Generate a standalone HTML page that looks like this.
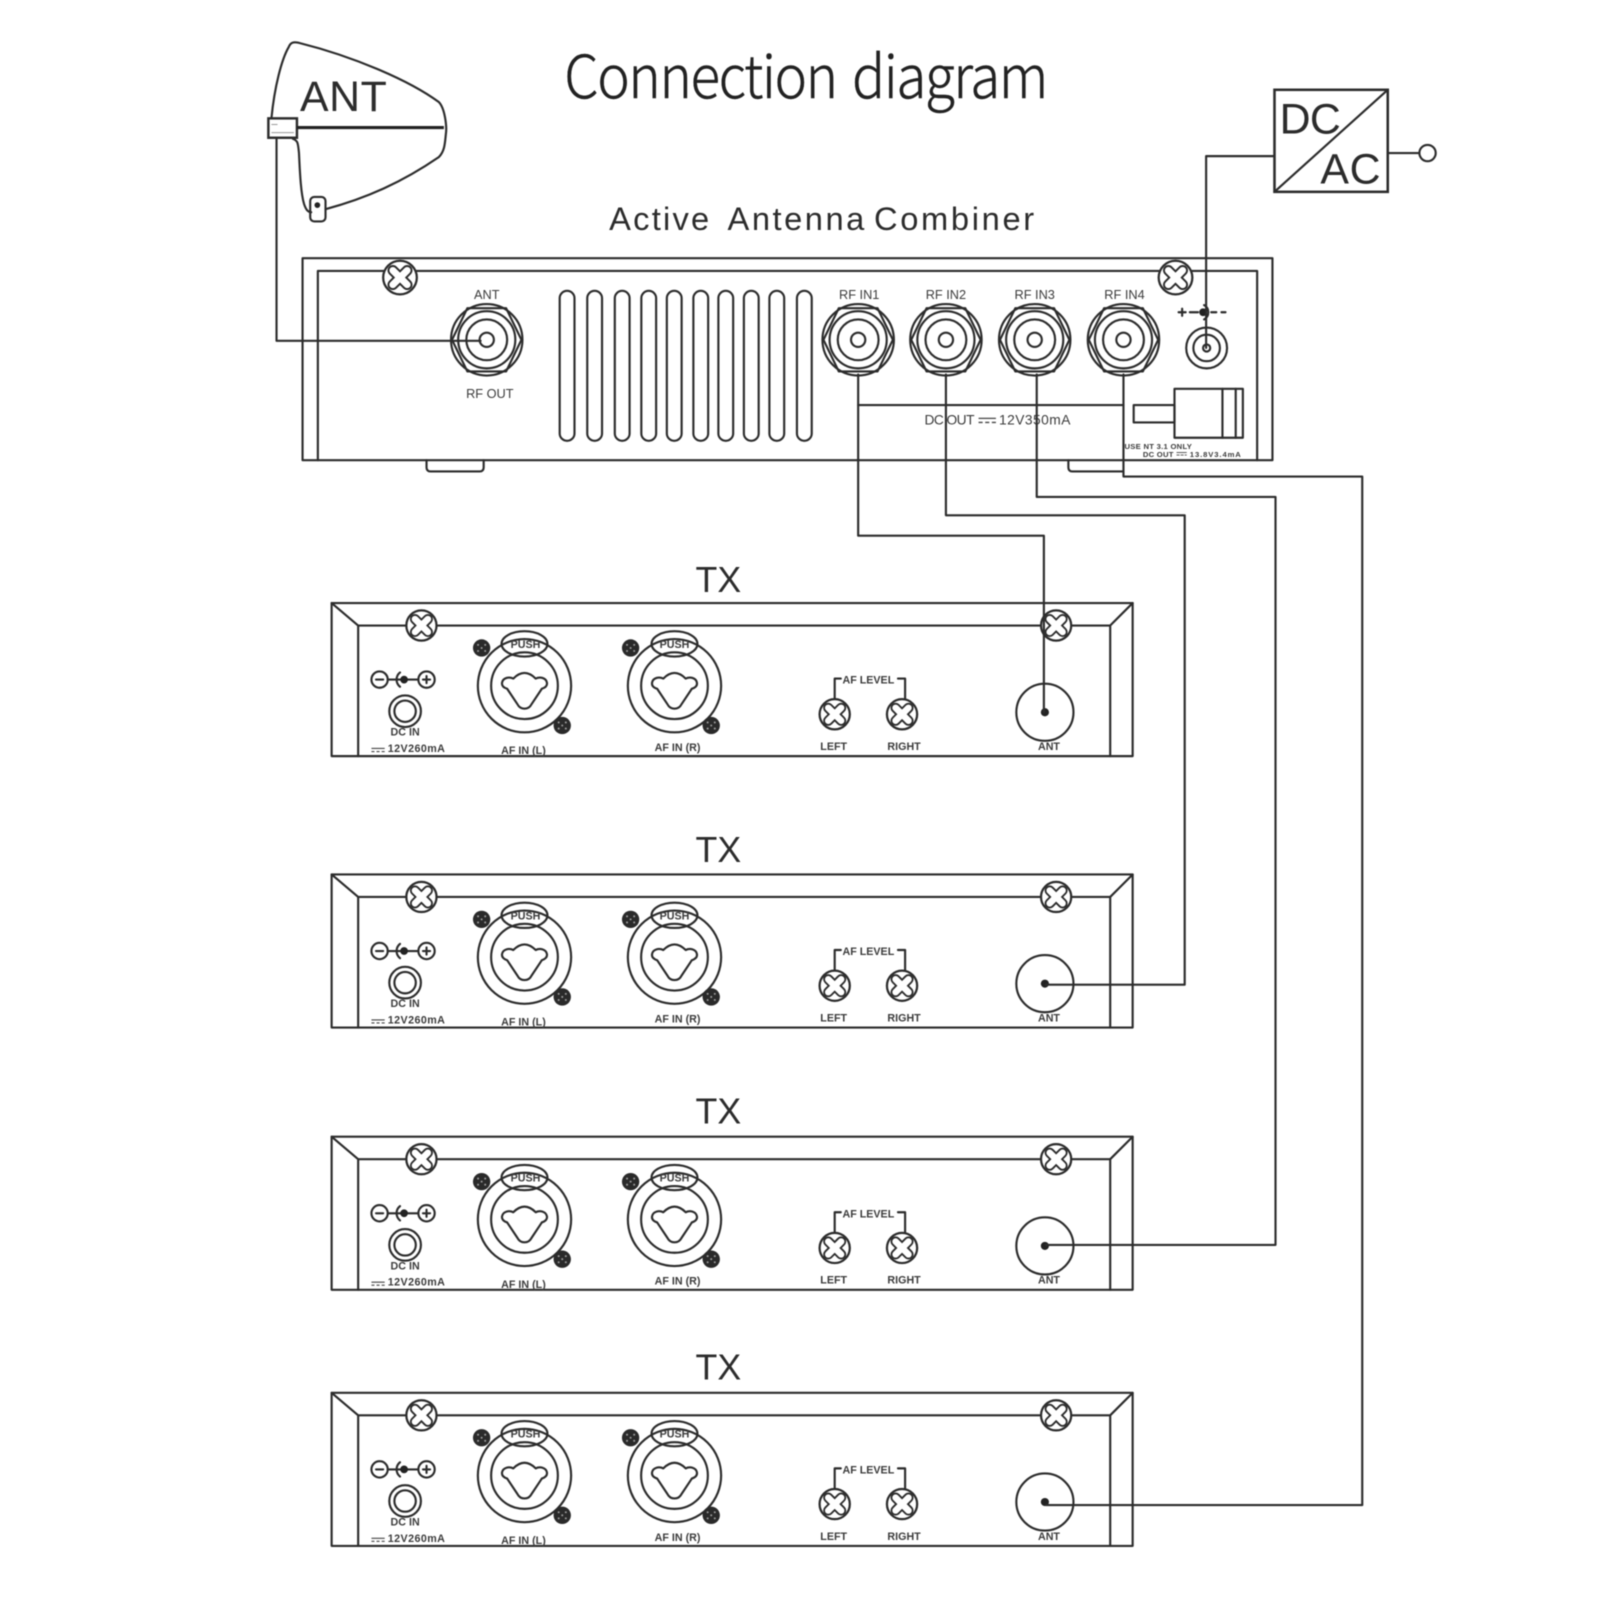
<!DOCTYPE html>
<html>
<head>
<meta charset="utf-8">
<title>Connection diagram</title>
<style>
html,body{margin:0;padding:0;background:#fff;}
svg{display:block;width:1600px;height:1600px;filter:blur(0.45px);}
.l{fill:none;stroke:#2c2c2c;stroke-width:2.1;stroke-linejoin:round;stroke-linecap:round;}
.t{font-family:"Liberation Sans","DejaVu Sans",sans-serif;fill:#3c3c3c;font-size:11px;}
.s{font-size:10.5px;font-weight:bold;}
.m{text-anchor:middle;}
.b{fill:#222;}
</style>
</head>
<body>
<svg xmlns="http://www.w3.org/2000/svg" viewBox="0 0 1568 1568" width="1600" height="1600">
<defs>
  <g id="scr">
    <circle r="16.5" fill="#fff" stroke="#2c2c2c" stroke-width="2.2"/>
    <path d="M-7,-7L7,7M7,-7L-7,7" stroke="#2c2c2c" stroke-width="10.5" stroke-linecap="round" fill="none"/>
    <path d="M-7,-7L7,7M7,-7L-7,7" stroke="#fff" stroke-width="6.8" stroke-linecap="round" fill="none"/>
  </g>
  <g id="sm">
    <circle r="14.8" fill="#fff" stroke="#2c2c2c" stroke-width="2.2"/>
    <path d="M-6.3,-6.3L6.3,6.3M6.3,-6.3L-6.3,6.3" stroke="#2c2c2c" stroke-width="10" stroke-linecap="round" fill="none"/>
    <path d="M-6.3,-6.3L6.3,6.3M6.3,-6.3L-6.3,6.3" stroke="#fff" stroke-width="6.4" stroke-linecap="round" fill="none"/>
  </g>
  <g id="bnc">
    <circle r="35" fill="#fff" class="l"/>
    <path d="M-34,0L-19,-31L19,-31L34,0L19,31L-19,31Z" class="l"/>
    <circle r="28" class="l"/>
    <circle r="20" class="l"/>
    <circle r="7" class="l"/>
  </g>
  <g id="drk">
    <circle r="8.5" fill="#2a2a2a"/>
    <g fill="#999"><circle cx="-3.5" cy="-3" r="1"/><circle cx="3.5" cy="-3" r="1"/><circle cx="-3.5" cy="3" r="1"/><circle cx="3.5" cy="3" r="1"/><circle r="1"/></g>
  </g>
  <g id="xlr">
    <circle r="45.7" class="l"/>
    <circle r="32.7" class="l"/>
    <path class="l" d="M-11,-7C-7,-11 -3,-12.5 0,-12.5C3,-12.5 7,-11 11,-7C15,-9 21,-8 22,-3C22.500,0 20,2 17,3L7,18C4,24 -4,24 -7,18L-17,3C-20,2 -22.500,0 -22,-3C-21,-8 -15,-9 -11,-7Z"/>
    <ellipse cx="0" cy="-41" rx="22.500" ry="12.400" fill="#fff" class="l"/>
  </g>
  <g id="tx">
    <rect x="325" y="0" width="785" height="150" class="l"/>
    <path class="l" d="M325,0L351,22L1088,22L1110,0M351,22L351,150M1088,22L1088,150"/>
    <use href="#sm" x="413" y="22"/>
    <use href="#sm" x="1035" y="22"/>
    <circle cx="372" cy="75" r="8" fill="#fff" class="l"/>
    <circle cx="418" cy="75" r="8" fill="#fff" class="l"/>
    <path class="l" d="M380,75L410,75M368.500,75L375.500,75M414.500,75L421.500,75M418,71.500L418,78.500M392,68A9,9 0 0,0 392,82"/>
    <circle cx="396" cy="75" r="3.800" class="b"/>
    <circle cx="397" cy="106" r="15.500" class="l"/>
    <circle cx="397" cy="106" r="10.500" class="l"/>
    <use href="#xlr" x="514" y="81"/>
    <use href="#xlr" x="661" y="81"/>
    <use href="#drk" x="472" y="44"/>
    <use href="#drk" x="551" y="120"/>
    <use href="#drk" x="618" y="44"/>
    <use href="#drk" x="697" y="120"/>
    <path class="l" d="M824,74L818,74L818,97M880,74L887,74L887,97"/>
    <use href="#sm" x="818" y="109"/>
    <use href="#sm" x="884" y="109"/>
    <circle cx="1024" cy="107" r="28" class="l"/>
    <circle cx="1024" cy="107" r="4" class="b"/>
    <path d="M364,142.500L377,142.500M364,145.500L367,145.500M369,145.500L372,145.500M374,145.500L377,145.500" stroke="#444" stroke-width="1.100" fill="none"/>
  </g>
</defs>

<rect width="1568" height="1568" fill="#fff"/>

<!-- Title -->
<g font-family="'Noto Sans CJK SC','Liberation Sans',sans-serif" font-weight="300" font-size="58" fill="#222" stroke="#222" stroke-width="0.4" lengthAdjust="spacingAndGlyphs">
  <text x="553" y="96" letter-spacing="-1.500" textLength="267" lengthAdjust="spacingAndGlyphs">Connection</text>
  <text x="835" y="96" letter-spacing="-1.500" textLength="191" lengthAdjust="spacingAndGlyphs">diagram</text>
</g>
<text x="597" y="225.500" class="t" style="font-size:32px;fill:#2c2c2c" textLength="98">Active</text>
<text x="713" y="225.500" class="t" style="font-size:32px;fill:#2c2c2c" textLength="134">Antenna</text>
<text x="856.500" y="225.500" class="t" style="font-size:32px;fill:#2c2c2c" textLength="157">Combiner</text>

<!-- Antenna -->
<path class="l" d="M266,116C269,85 276,58 283,46C285,41 288,41 293,42C345,55 400,78 430,100C436,106 438,124 437,131C436,140 436,148 430,154C395,178 360,194 319,205"/>
<path class="l" d="M287,136C292,138 292,140 293,150C294,172 295,190 298,200C300,206 302,208 305,208"/>
<rect x="304" y="193" width="15" height="24" rx="4" fill="#fff" class="l"/>
<circle cx="311" cy="201" r="2.800" class="b"/>
<rect x="263" y="116" width="28" height="19" fill="#fff" stroke="#2c2c2c" stroke-width="2.400"/>
<path d="M291,125L435,125" stroke="#222" stroke-width="3" fill="none"/>
<path d="M266,130L288,130M266,122L272,122" stroke="#999" stroke-width="1" fill="none"/>
<text x="294" y="109" class="t" style="font-size:42px;fill:#2c2c2c" textLength="85">ANT</text>

<!-- Combiner -->
<rect x="296.500" y="253" width="950.500" height="198" class="l"/>
<path class="l" d="M311.500,451L311.500,265.500L1232,265.500L1232,451"/>
<path class="l" d="M418,451L418,458Q418,462 422,462L470,462Q474,462 474,458L474,451"/>
<path class="l" d="M1047,451L1047,458Q1047,462 1051,462L1101,462"/>
<use href="#scr" x="392" y="272"/>
<use href="#scr" x="1152" y="272"/>
<g class="l">
  <rect x="548.500" y="285" width="14.500" height="147" rx="7.200"/>
  <rect x="575.500" y="285" width="14.500" height="147" rx="7.200"/>
  <rect x="602.500" y="285" width="14.500" height="147" rx="7.200"/>
  <rect x="628.500" y="285" width="14.500" height="147" rx="7.200"/>
  <rect x="653.500" y="285" width="14.500" height="147" rx="7.200"/>
  <rect x="679.500" y="285" width="14.500" height="147" rx="7.200"/>
  <rect x="704" y="285" width="14.500" height="147" rx="7.200"/>
  <rect x="729" y="285" width="14.500" height="147" rx="7.200"/>
  <rect x="754" y="285" width="14.500" height="147" rx="7.200"/>
  <rect x="781" y="285" width="14.500" height="147" rx="7.200"/>
</g>
<use href="#bnc" x="477" y="333"/>
<use href="#bnc" x="841" y="333"/>
<use href="#bnc" x="927" y="333"/>
<use href="#bnc" x="1014" y="333"/>
<use href="#bnc" x="1101" y="333"/>
<text x="477" y="293" class="t m" style="font-size:12.500px">ANT</text>
<text x="480" y="390" class="t m" style="font-size:12.500px">RF OUT</text>
<text x="842" y="293" class="t m" style="font-size:12.500px">RF IN1</text>
<text x="927" y="293" class="t m" style="font-size:12.500px">RF IN2</text>
<text x="1014" y="293" class="t m" style="font-size:12.500px">RF IN3</text>
<text x="1102" y="293" class="t m" style="font-size:12.500px">RF IN4</text>

<!-- Power jack -->
<path class="l" d="M1155,306L1162,306M1158.500,302.500L1158.500,309.500M1166,306L1174,306M1187,306L1192,306M1197,306L1201,306M1180,299A8,8 0 0,1 1180,313"/>
<circle cx="1179" cy="306" r="3.800" class="b"/>
<circle cx="1182.500" cy="341" r="20" class="l"/>
<circle cx="1182.500" cy="341" r="13" class="l"/>
<circle cx="1182.500" cy="341" r="3.500" class="l"/>

<!-- Plug -->
<rect x="1111" y="397" width="40" height="17" class="l"/>
<rect x="1151" y="381" width="67" height="48" class="l"/>
<path class="l" d="M1198,381L1198,429M1211,381L1211,429"/>
<text x="906" y="416" class="t" style="font-size:13.500px" textLength="49">DC OUT</text>
<path d="M959,410L976,410M959,414L963,414M965.500,414L969.500,414M972,414L976,414" stroke="#444" stroke-width="1.300" fill="none"/>
<text x="979" y="416" class="t" style="font-size:13.500px" textLength="70">12V350mA</text>
<text x="1102" y="440" class="t" style="font-size:7.500px;font-weight:bold" textLength="66">USE NT 3.1 ONLY</text>
<text x="1120" y="448" class="t" style="font-size:7.500px;font-weight:bold" textLength="30">DC OUT</text>
<path d="M1153,443.500L1163,443.500M1153,446L1156,446M1157,446L1160,446M1161,446L1163,446" stroke="#444" stroke-width="0.900" fill="none"/>
<text x="1166" y="448" class="t" style="font-size:7.500px;font-weight:bold" textLength="50">13.8V3.4mA</text>

<!-- DC/AC -->
<rect x="1249" y="88" width="111" height="100" fill="#fff" stroke="#2c2c2c" stroke-width="2.500"/>
<path class="l" d="M1249,188L1360,88"/>
<text x="1254" y="131" class="t" style="font-size:42px;fill:#2c2c2c" textLength="60">DC</text>
<text x="1294" y="180" class="t" style="font-size:42px;fill:#2c2c2c" textLength="59">AC</text>
<path class="l" d="M1360,150L1391,150"/>
<circle cx="1399" cy="150" r="8" class="l"/>
<path class="l" d="M1249,153L1182,153L1182,341"/>

<!-- TX panels -->
<use href="#tx" y="591"/>
<use href="#tx" y="857"/>
<use href="#tx" y="1114"/>
<use href="#tx" y="1365"/>

<g>
  <text x="704" y="580" class="t m" style="font-size:35px;fill:#2c2c2c">TX</text>
  <text x="397" y="721" class="t m s">DC IN</text>
  <text x="380" y="737" class="t s" textLength="56">12V260mA</text>
  <text x="513" y="739" class="t m s">AF IN (L)</text>
  <text x="664" y="736" class="t m s">AF IN (R)</text>
  <text x="851" y="670" class="t m s">AF LEVEL</text>
  <text x="817" y="735" class="t m s">LEFT</text>
  <text x="886" y="735" class="t m s">RIGHT</text>
  <text x="1028" y="735" class="t m s">ANT</text>
  <text x="515" y="635" class="t s" style="text-anchor:middle" >PUSH</text>
  <text x="661" y="635" class="t m s">PUSH</text>
</g>
<g transform="translate(0,266)">
  <text x="704" y="579" class="t m" style="font-size:35px;fill:#2c2c2c">TX</text>
  <text x="397" y="721" class="t m s">DC IN</text>
  <text x="380" y="737" class="t s" textLength="56">12V260mA</text>
  <text x="513" y="739" class="t m s">AF IN (L)</text>
  <text x="664" y="736" class="t m s">AF IN (R)</text>
  <text x="851" y="670" class="t m s">AF LEVEL</text>
  <text x="817" y="735" class="t m s">LEFT</text>
  <text x="886" y="735" class="t m s">RIGHT</text>
  <text x="1028" y="735" class="t m s">ANT</text>
  <text x="515" y="635" class="t m s">PUSH</text>
  <text x="661" y="635" class="t m s">PUSH</text>
</g>
<g transform="translate(0,523)">
  <text x="704" y="578" class="t m" style="font-size:35px;fill:#2c2c2c">TX</text>
  <text x="397" y="721" class="t m s">DC IN</text>
  <text x="380" y="737" class="t s" textLength="56">12V260mA</text>
  <text x="513" y="739" class="t m s">AF IN (L)</text>
  <text x="664" y="736" class="t m s">AF IN (R)</text>
  <text x="851" y="670" class="t m s">AF LEVEL</text>
  <text x="817" y="735" class="t m s">LEFT</text>
  <text x="886" y="735" class="t m s">RIGHT</text>
  <text x="1028" y="735" class="t m s">ANT</text>
  <text x="515" y="635" class="t m s">PUSH</text>
  <text x="661" y="635" class="t m s">PUSH</text>
</g>
<g transform="translate(0,774)">
  <text x="704" y="578" class="t m" style="font-size:35px;fill:#2c2c2c">TX</text>
  <text x="397" y="721" class="t m s">DC IN</text>
  <text x="380" y="737" class="t s" textLength="56">12V260mA</text>
  <text x="513" y="739" class="t m s">AF IN (L)</text>
  <text x="664" y="736" class="t m s">AF IN (R)</text>
  <text x="851" y="670" class="t m s">AF LEVEL</text>
  <text x="817" y="735" class="t m s">LEFT</text>
  <text x="886" y="735" class="t m s">RIGHT</text>
  <text x="1028" y="735" class="t m s">ANT</text>
  <text x="515" y="635" class="t m s">PUSH</text>
  <text x="661" y="635" class="t m s">PUSH</text>
</g>

<!-- Wires -->
<path class="l" d="M271,136L271,334L471,334"/>
<path class="l" d="M841,397L1101,397"/>
<path class="l" d="M841,367L841,525L1023,525L1023,698"/>
<path class="l" d="M927,367L927,505L1161,505L1161,965L1025,965"/>
<path class="l" d="M1016,367L1016,487L1250,487L1250,1220L1025,1220"/>
<path class="l" d="M1101,367L1101,467L1335,467L1335,1475L1025,1475"/>
</svg>
</body>
</html>
